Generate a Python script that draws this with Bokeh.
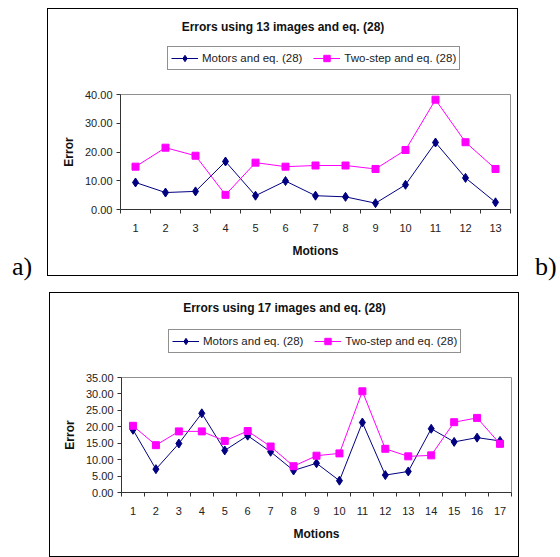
from bokeh.plotting import figure
from bokeh.models import (Legend, LegendItem, FixedTicker, Label,
                          NumeralTickFormatter, Range1d, Div, Spacer)
from bokeh.layouts import row, column
from bokeh.embed import file_html
from bokeh.resources import INLINE

# ---------------- data ----------------
title_a = "Errors using 13 images and eq. (28)"
motions_a = list(range(1, 14))
motors_a = [9.4, 5.9, 6.3, 16.7, 4.8, 9.9, 4.8, 4.4, 2.2, 8.6, 23.3, 11.0, 2.5]
twostep_a = [14.9, 21.5, 18.7, 5.1, 16.3, 14.9, 15.3, 15.3, 14.1, 20.7, 38.2, 23.4, 14.1]
yticks_a = [0, 10, 20, 30, 40]

title_b = "Errors using 17 images and eq. (28)"
motions_b = list(range(1, 18))
motors_b = [19.1, 7.1, 14.9, 24.1, 12.8, 17.3, 12.4, 6.7, 8.9, 3.6, 21.3,
            5.3, 6.4, 19.4, 15.4, 16.7, 15.7]
twostep_b = [20.3, 14.4, 18.6, 18.6, 15.7, 18.7, 14.0, 8.0, 11.2, 11.9, 30.8,
             13.3, 11.0, 11.3, 21.4, 22.7, 14.8]
yticks_b = [0, 5, 10, 15, 20, 25, 30, 35]

series_names = ["Motors and eq. (28)", "Two-step and eq. (28)"]
x_label = "Motions"
y_label = "Error"

FONT = "Liberation Sans"
NAVY = "#000080"
MAGENTA = "#FF00FF"


def add_series(p, xs, m, t):
    r1 = p.line(xs, m, line_color=NAVY, line_width=1)
    s1 = p.scatter(xs, m, marker="diamond", size=9,
                   fill_color=NAVY, line_color=NAVY)
    r2 = p.line(xs, t, line_color=MAGENTA, line_width=1)
    s2 = p.scatter(xs, t, marker="square", size=7,
                   fill_color=MAGENTA, line_color=MAGENTA)
    return r1, s1, r2, s2


def make_header(title, xs, m, t, width, height, title_x, title_y, leg_x, leg_y):
    # header strip holding the chart title and the legend; its frame is
    # aligned by the column layout with the plot frame below it.
    h = figure(width=width, height=height, x_range=Range1d(-2, -1), y_range=Range1d(-2, -1),
               output_backend="svg", toolbar_location=None,
               x_axis_location=None, y_axis_location=None,
               min_border=0, min_border_left=0, min_border_right=0,
               min_border_top=0, min_border_bottom=0,
               border_fill_color=None, background_fill_color=None,
               outline_line_color=None)
    h.grid.visible = False
    # same series, outside this strip's ranges: only their legend samples show
    r1, s1, r2, s2 = add_series(h, xs, m, t)
    legend = Legend(items=[LegendItem(label=series_names[0], renderers=[r1, s1]),
                           LegendItem(label=series_names[1], renderers=[r2, s2])],
                    orientation="horizontal", location=(leg_x, leg_y),
                    padding=3, spacing=11, margin=0,
                    glyph_width=27, glyph_height=16, label_height=16,
                    label_standoff=4, label_text_font=FONT,
                    label_text_font_size="11.5px", label_text_color="#222222",
                    border_line_color="#222222", border_line_width=1,
                    background_fill_color="white", background_fill_alpha=1.0)
    h.add_layout(legend)
    h.add_layout(Label(x=title_x, y=title_y, x_units="screen", y_units="screen",
                       text=title, text_align="center", text_baseline="middle",
                       text_font=FONT, text_font_size="12px",
                       text_font_style="bold", text_color="#111111"))
    return h


def make_plot(xs, m, t, yticks, width, height, mbl, mbr, mbt, mbb):
    n = len(xs)
    p = figure(width=width, height=height,
               x_range=Range1d(0.5, n + 0.5),
               y_range=Range1d(0, yticks[-1]),
               output_backend="svg", toolbar_location=None,
               min_border_left=mbl, min_border_right=mbr,
               min_border_top=mbt, min_border_bottom=mbb,
               border_fill_color=None, background_fill_color="white",
               outline_line_color="#909090", outline_line_width=1)
    p.grid.visible = False

    xa = p.xaxis[0]
    xa.ticker = FixedTicker(ticks=xs, minor_ticks=[i + 0.5 for i in range(n + 1)])
    xa.major_tick_out = 0
    xa.major_tick_in = 0
    xa.minor_tick_out = 4
    xa.minor_tick_in = 0
    xa.axis_line_color = "#333333"
    xa.minor_tick_line_color = "#333333"
    xa.major_label_text_font = FONT
    xa.major_label_text_font_size = "11px"
    xa.major_label_text_color = "#222222"
    xa.major_label_standoff = 10
    xa.axis_label = x_label
    xa.axis_label_text_font = FONT
    xa.axis_label_text_font_style = "bold"
    xa.axis_label_text_font_size = "12px"
    xa.axis_label_text_color = "#111111"
    xa.axis_label_standoff = 9

    ya = p.yaxis[0]
    ya.ticker = FixedTicker(ticks=yticks)
    ya.formatter = NumeralTickFormatter(format="0.00")
    ya.major_tick_out = 4
    ya.major_tick_in = 0
    ya.minor_tick_out = 0
    ya.minor_tick_in = 0
    ya.axis_line_color = "#333333"
    ya.major_tick_line_color = "#333333"
    ya.major_label_text_font = FONT
    ya.major_label_text_font_size = "11px"
    ya.major_label_text_color = "#222222"
    ya.major_label_standoff = 4
    ya.axis_label = y_label
    ya.axis_label_text_font = FONT
    ya.axis_label_text_font_style = "bold"
    ya.axis_label_text_font_size = "12px"
    ya.axis_label_text_color = "#111111"
    ya.axis_label_standoff = 6

    add_series(p, xs, m, t)
    return p


css = {"outline": "1px solid black", "outline-offset": "-1px"}

# coordinates of header texts are relative to the (aligned) frame
h1 = make_header(title_a, motions_a, motors_a, twostep_a, 471, 80,
                 title_x=162.5, title_y=61.5, leg_x=47, leg_y=18)
p1 = make_plot(motions_a, motors_a, twostep_a, yticks_a, 471, 188, 73, 8, 6, 67)
chart1 = column(h1, p1, spacing=0, styles=css)

h2 = make_header(title_b, motions_b, motors_b, twostep_b, 470, 79,
                 title_x=163, title_y=64, leg_x=47, leg_y=18)
p2 = make_plot(motions_b, motors_b, twostep_b, yticks_b, 470, 186, 72, 8, 6, 65)
chart2 = column(h2, p2, spacing=0, styles=css)

lab_style = ("font-family:'Liberation Serif';font-size:26px;line-height:26px;"
             "color:#000;padding-top:254px;padding-left:%dpx")
divA = Div(text='<div style="%s">a)</div>' % (lab_style % 12),
           width=47, height=557, margin=0)
divB = Div(text='<div style="%s">b)</div>' % (lab_style % 16),
           width=41, height=557, margin=0)

mid = column(Spacer(width=471, height=8), chart1,
             Spacer(width=471, height=16),
             row(Spacer(width=2, height=265), chart2, spacing=0),
             spacing=0)
layout = row(divA, mid, divB, spacing=0)

open("out.html", "w").write(file_html(layout, INLINE))
